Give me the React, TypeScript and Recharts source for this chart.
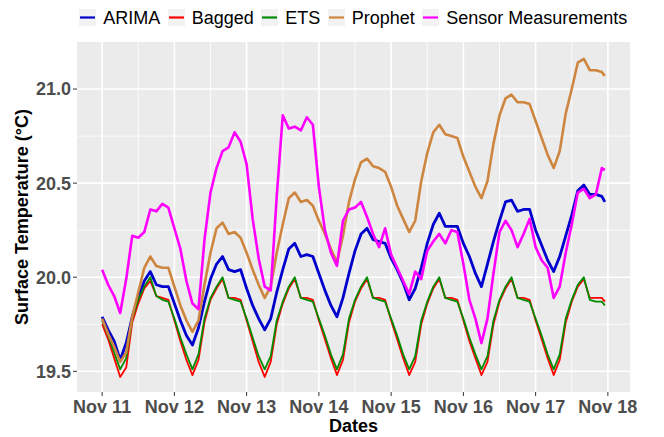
import { CartesianGrid, Label, Legend, Line, LineChart, XAxis, YAxis } from "recharts";

// hours since Nov 11 00:00
const HOURS = [
  0, 2, 4, 6, 8, 10, 12, 14, 16, 18, 20, 22, 24, 26, 28, 30, 32, 34, 36, 38, 40, 42, 44, 46,
  48, 50, 52, 54, 56, 58, 60, 62, 64, 66, 68, 70, 72, 74, 76, 78, 80, 82, 84, 86, 88, 90, 92, 94,
  96, 98, 100, 102, 104, 106, 108, 110, 112, 114, 116, 118, 120, 122, 124, 126, 128, 130, 132, 134, 136, 138, 140, 142,
  144, 146, 148, 150, 152, 154, 156, 158, 160, 162, 164, 166, 167,
];

const ARIMA = [
  19.79, 19.72, 19.66, 19.56, 19.65, 19.79, 19.89, 19.98, 20.03, 19.96, 19.95, 19.95,
  19.86, 19.77, 19.69, 19.64, 19.73, 19.87, 19.99, 20.07, 20.11, 20.04, 20.03, 20.04,
  19.94, 19.85, 19.78, 19.72, 19.78, 19.92, 20.04, 20.15, 20.18, 20.11, 20.12, 20.11,
  20.02, 19.93, 19.85, 19.79, 19.89, 20.02, 20.14, 20.23, 20.26, 20.2, 20.19, 20.18,
  20.1, 20.04, 19.97, 19.88, 19.94, 20.05, 20.18, 20.28, 20.34, 20.27, 20.27, 20.27,
  20.18, 20.11, 20.02, 19.95, 20.07, 20.19, 20.3, 20.4, 20.41, 20.35, 20.36, 20.36,
  20.25, 20.17, 20.09, 20.03, 20.11, 20.22, 20.33, 20.46, 20.49, 20.44, 20.44, 20.43, 20.4,
];

const BAGGED = [
  19.75, 19.67, 19.57, 19.47, 19.52, 19.76, 19.86, 19.94, 19.98, 19.9, 19.89, 19.88,
  19.77, 19.66, 19.56, 19.48, 19.56, 19.76, 19.88, 19.94, 19.99, 19.89, 19.89, 19.88,
  19.77, 19.66, 19.55, 19.47, 19.55, 19.75, 19.86, 19.94, 19.99, 19.89, 19.89, 19.88,
  19.77, 19.67, 19.57, 19.48, 19.56, 19.76, 19.87, 19.94, 19.99, 19.89, 19.89, 19.88,
  19.77, 19.67, 19.57, 19.48, 19.55, 19.75, 19.86, 19.94, 19.99, 19.89, 19.89, 19.88,
  19.77, 19.66, 19.57, 19.48, 19.55, 19.75, 19.87, 19.94, 19.99, 19.89, 19.89, 19.88,
  19.77, 19.67, 19.57, 19.48, 19.56, 19.76, 19.87, 19.95, 19.99, 19.89, 19.89, 19.89, 19.87,
];

const ETS = [
  19.77, 19.69, 19.6, 19.51, 19.57, 19.78, 19.88, 19.95, 20.0, 19.9, 19.88, 19.87,
  19.78, 19.68, 19.59, 19.51, 19.59, 19.78, 19.89, 19.95, 20.0, 19.89, 19.88, 19.87,
  19.78, 19.68, 19.58, 19.51, 19.58, 19.77, 19.87, 19.95, 20.0, 19.89, 19.88, 19.87,
  19.78, 19.69, 19.59, 19.51, 19.59, 19.78, 19.88, 19.95, 20.0, 19.89, 19.88, 19.87,
  19.78, 19.69, 19.59, 19.51, 19.58, 19.77, 19.87, 19.95, 20.0, 19.89, 19.88, 19.87,
  19.78, 19.68, 19.59, 19.51, 19.58, 19.77, 19.88, 19.95, 20.0, 19.89, 19.88, 19.87,
  19.78, 19.69, 19.59, 19.51, 19.59, 19.78, 19.88, 19.96, 20.0, 19.88, 19.87, 19.87, 19.85,
];

const PROPHET = [
  19.78, 19.7, 19.63, 19.55, 19.6, 19.79, 19.92, 20.05, 20.11, 20.06, 20.05, 20.05,
  19.95, 19.85, 19.77, 19.71, 19.77, 19.96, 20.13, 20.26, 20.29, 20.23, 20.24, 20.21,
  20.13, 20.04, 19.96, 19.89, 19.95, 20.13, 20.28, 20.42, 20.45, 20.4, 20.41, 20.38,
  20.3, 20.23, 20.15, 20.08, 20.22, 20.4, 20.52, 20.61, 20.63, 20.59, 20.58, 20.56,
  20.48, 20.38, 20.31, 20.24, 20.3, 20.51, 20.66, 20.77, 20.81, 20.76, 20.75, 20.74,
  20.64, 20.56, 20.48, 20.42, 20.51, 20.71, 20.86, 20.95, 20.97, 20.93, 20.93, 20.92,
  20.83, 20.74, 20.65, 20.58, 20.67, 20.87, 21.0, 21.14, 21.16, 21.1, 21.1, 21.09, 21.07,
];

const SENSOR = [
  20.04, 19.96, 19.9, 19.81, 19.99, 20.22, 20.21, 20.24, 20.36, 20.35, 20.39, 20.37,
  20.26, 20.15, 19.98, 19.86, 19.83, 20.2, 20.45, 20.58, 20.67, 20.69, 20.77, 20.72,
  20.6, 20.31, 20.1, 19.95, 19.93, 20.43, 20.86, 20.79, 20.8, 20.78, 20.85, 20.81,
  20.48, 20.25, 20.13, 20.06, 20.3, 20.36, 20.37, 20.4, 20.32, 20.23, 20.16, 20.26,
  20.12, 20.05, 19.98, 19.91, 20.03, 19.99, 20.14, 20.19, 20.23, 20.18, 20.25, 20.24,
  20.07, 19.88, 19.78, 19.65, 19.78, 20.02, 20.24, 20.3, 20.25, 20.16, 20.23, 20.31,
  20.16, 20.09, 20.05, 19.89, 19.95, 20.13, 20.28, 20.45, 20.47, 20.42, 20.44, 20.58, 20.57,
];

const X_TICKS = [0, 24, 48, 72, 96, 120, 144, 168];
const X_TICK_LABELS = ["Nov 11", "Nov 12", "Nov 13", "Nov 14", "Nov 15", "Nov 16", "Nov 17", "Nov 18"];
const X_MINOR = [12, 36, 60, 84, 108, 132, 156];
const Y_TICKS = [19.5, 20.0, 20.5, 21.0];
const Y_MINOR = [19.75, 20.25, 20.75];

const SERIES = [
  { key: "arima", name: "ARIMA", color: "#0000CD", width: 2.8 },
  { key: "bagged", name: "Bagged", color: "#FF0000", width: 1.8 },
  { key: "ets", name: "ETS", color: "#008B00", width: 1.8 },
  { key: "prophet", name: "Prophet", color: "#CD853F", width: 2.6 },
  { key: "sensor", name: "Sensor Measurements", color: "#FF00FF", width: 2.6 },
];

const data = HOURS.map((h, i) => ({
  h,
  arima: ARIMA[i],
  bagged: BAGGED[i],
  ets: ETS[i],
  prophet: PROPHET[i],
  sensor: SENSOR[i],
}));

const FONT = "'Liberation Sans', Arial, Helvetica, sans-serif";

const LegendRow = () => (
  <div
    style={{
      display: "flex",
      justifyContent: "center",
      alignItems: "center",
      height: 34,
      paddingLeft: 50,
      boxSizing: "border-box",
      fontFamily: FONT,
      fontSize: 18,
      color: "#000",
    }}
  >
    {SERIES.map((s) => (
      <div key={s.key} style={{ display: "flex", alignItems: "center", marginRight: 7.5 }}>
        <svg width={17} height={17} style={{ display: "block" }}>
          <rect width={17} height={17} fill="#F2F2F2" />
          <line x1={1} x2={16} y1={8.5} y2={8.5} stroke={s.color} strokeWidth={2.2} />
        </svg>
        <span style={{ marginLeft: 7, position: "relative", top: 1 }}>{s.name}</span>
      </div>
    ))}
  </div>
);

const tickStyle = { fill: "#4D4D4D", fontSize: 18, fontWeight: 700, fontFamily: FONT };

export default function App() {
  return (
    <div style={{ position: "absolute", left: 0, top: 0, background: "#fff" }}>
      <LineChart
        width={664}
        height={437}
        data={data}
        margin={{ top: 42, right: 34, left: 0, bottom: 0 }}
      >
        <CartesianGrid
          fill="#EBEBEB"
          stroke="#FFFFFF"
          strokeWidth={0.8}
          horizontalValues={Y_MINOR}
          verticalValues={X_MINOR}
        />
        <CartesianGrid
          stroke="#FFFFFF"
          strokeWidth={1.6}
          horizontalValues={Y_TICKS}
          verticalValues={X_TICKS}
        />
        <XAxis
          dataKey="h"
          type="number"
          domain={[-8.35, 175.35]}
          allowDataOverflow
          ticks={X_TICKS}
          interval={0}
          tickFormatter={(v: number) => X_TICK_LABELS[X_TICKS.indexOf(v)]}
          axisLine={false}
          tickLine={{ stroke: "#333333", strokeWidth: 1 }}
          tickSize={4}
          tickMargin={4}
          height={45}
          tick={tickStyle}
        >
          <Label
            content={() => (
              <text
                x={353.5}
                y={432}
                textAnchor="middle"
                fontFamily={FONT}
                fontSize={18}
                fontWeight={700}
                fill="#000"
              >
                Dates
              </text>
            )}
          />
        </XAxis>
        <YAxis
          type="number"
          domain={[19.39, 21.25]}
          allowDataOverflow
          ticks={Y_TICKS}
          interval={0}
          tickFormatter={(v: number) => v.toFixed(1)}
          axisLine={false}
          tickLine={{ stroke: "#333333", strokeWidth: 1 }}
          tickSize={4}
          tickMargin={2}
          width={77}
          tick={tickStyle}
        >
          <Label
            content={() => (
              <text
                x={27.5}
                y={217}
                transform="rotate(-90 27.5 217)"
                textAnchor="middle"
                fontFamily={FONT}
                fontSize={18}
                fontWeight={700}
                fill="#000"
              >
                Surface Temperature (°C)
              </text>
            )}
          />
        </YAxis>
        <Legend
          layout="horizontal"
          verticalAlign="middle"
          align="center"
          wrapperStyle={{ top: 0, left: 0, width: 664, height: 34 }}
          content={() => <LegendRow />}
        />
        {SERIES.map((s) => (
          <Line
            key={s.key}
            type="linear"
            dataKey={s.key}
            name={s.name}
            stroke={s.color}
            strokeWidth={s.width}
            strokeLinejoin="round"
            dot={false}
            activeDot={false}
            isAnimationActive={false}
          />
        ))}
      </LineChart>
    </div>
  );
}
